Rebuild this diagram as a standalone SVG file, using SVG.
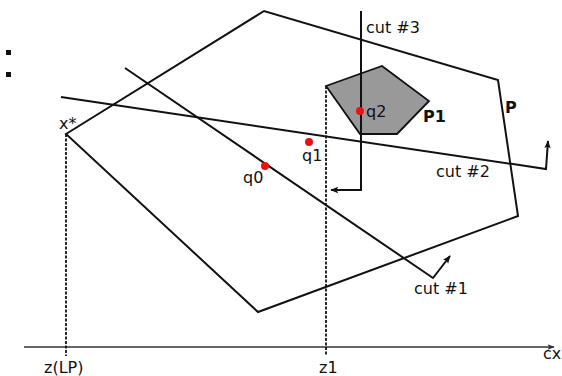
<svg xmlns="http://www.w3.org/2000/svg" width="562" height="376" viewBox="0 0 562 376">
<defs>
<marker id="ah" viewBox="0 0 10 10" refX="9" refY="5" markerWidth="9" markerHeight="8" orient="auto" markerUnits="userSpaceOnUse">
<path d="M0,1 L10,5 L0,9 L2,5 z" fill="#111"/>
</marker>
<marker id="ahg" viewBox="0 0 10 10" refX="9" refY="5" markerWidth="9" markerHeight="7" orient="auto" markerUnits="userSpaceOnUse">
<path d="M0,1 L10,5 L0,9 L2,5 z" fill="#333"/>
</marker>
<style>
.ln{fill:none;stroke:#111;stroke-width:2;stroke-linejoin:miter}
.dash{fill:none;stroke:#111;stroke-width:1.8;stroke-dasharray:3,1.5}
.t{font-family:"DejaVu Sans",sans-serif;font-size:16px;fill:#111}
.b{font-weight:bold}
.dot{fill:#ee1111}
</style>
</defs>
<rect width="562" height="376" fill="#fff"/>
<g id="bullets">
<rect x="6" y="50" width="5" height="5" fill="#111"/>
<rect x="6" y="72" width="5" height="5" fill="#111"/>
</g>
<g id="axis">
<line x1="24" y1="347" x2="554" y2="347" stroke="#666" stroke-width="2" marker-end="url(#ahg)"/>
<text class="t" x="543" y="359" font-size="14">cx</text>
</g>
<g id="P">
<polygon class="ln" points="66,134 264,11 498,80 518,216 258,312"/>
<text class="t b" x="505" y="113" font-size="13">P</text>
</g>
<g id="P1">
<polygon points="326,86 382,66 429,101 397,134 360,134" fill="#999" stroke="#111" stroke-width="1.8"/>
<text class="t b" x="423" y="122" font-size="14">P1</text>
</g>
<g id="connectors">
<line class="dash" x1="66" y1="134" x2="66" y2="356"/>
<line class="dash" x1="326" y1="86" x2="326" y2="356"/>
<polyline class="ln" points="125,68 433,278 450,256" marker-end="url(#ah)"/>
<polyline class="ln" points="61,97 546,169 548,141" marker-end="url(#ah)"/>
<polyline class="ln" points="361,11 361,190 331,190" marker-end="url(#ah)"/>
</g>
<g id="labels">
<text class="t" x="59" y="129">x*</text>
<text class="t" x="44" y="373">z(LP)</text>
<text class="t" x="319" y="373">z1</text>
<text class="t" x="366" y="33">cut #3</text>
<text class="t" x="436" y="177">cut #2</text>
<text class="t" x="414" y="294">cut #1</text>
</g>
<g id="q0"><circle class="dot" cx="265" cy="166" r="4"/><text class="t" x="243" y="183">q0</text></g>
<g id="q1"><circle class="dot" cx="309" cy="142" r="4"/><text class="t" x="302" y="161">q1</text></g>
<g id="q2"><circle class="dot" cx="360" cy="111" r="4"/><text class="t" x="366" y="117">q2</text></g>
</svg>
